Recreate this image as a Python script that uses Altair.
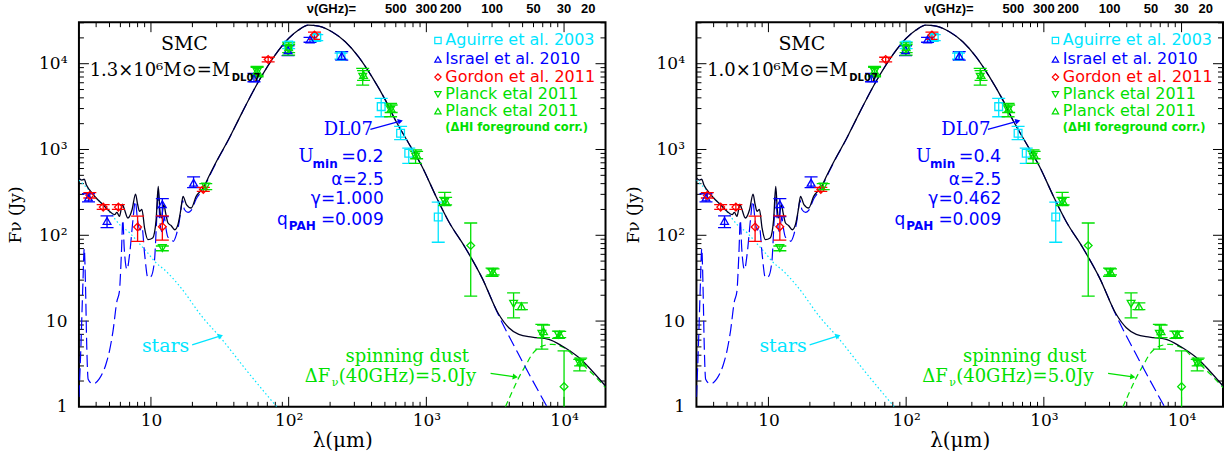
import altair as alt
import pandas as pd

W, H = 527, 385
XDOM = [3, 20000]
YDOM = [1, 30500]

# ---------------- model curves ----------------
tot_lam = [3.0, 3.15, 3.28, 3.4, 3.57, 4.0, 4.48, 5.0, 5.44, 5.66, 5.91, 6.2, 6.37, 6.8, 7.3, 7.73, 8.0,
           8.26, 8.6, 9.0, 9.5, 10.3, 10.9, 11.3, 11.6, 11.9, 12.4, 12.8, 13.3, 14.0, 14.9, 15.7, 16.5,
           17.1, 18.1, 19.6, 21.3, 23.9, 26.7, 29.9, 36.5, 45.6, 60.3, 79.7, 99.8, 118, 139, 165, 206,
           258, 322, 402, 503, 595, 744, 930, 1180, 1452, 1923, 2537, 3355, 3970, 4690, 5860, 7740,
           9680, 12800, 16000, 20000]
tot_F = [464, 440, 450, 385, 340, 272, 228, 190, 174, 185, 166, 230, 208, 159, 200, 302, 230,
         190, 200, 120, 89, 93, 150, 371, 200, 159, 228, 180, 139, 130, 116, 133, 200,
         284, 228, 208, 284, 355, 508, 725, 1297, 2640, 6170, 12600, 19700, 24700, 28200, 27400, 23600,
         18000, 12000, 7060, 3790, 2210, 1184, 634, 280, 145, 71, 31.9, 12.0, 8.36, 7.0, 6.5, 6.13,
         5.12, 3.75, 2.62, 1.75]

dust_lam = [3.0, 3.1, 3.2, 3.28, 3.35, 3.42, 3.5, 3.78, 4.2, 4.7, 5.0, 5.3, 5.66, 5.9, 6.1, 6.25, 6.4,
            6.7, 7.0, 7.4, 7.7, 8.0, 8.3, 8.6, 9.0, 9.5, 10.0, 10.6, 11.0, 11.3, 11.6, 12.0, 12.5,
            12.8, 13.3, 14.0, 14.5, 15.3, 16.0, 17.0, 17.5, 18.6, 19.6, 21.3, 23.9, 26.7, 29.9, 36.5,
            45.6, 60.3, 79.7, 99.8, 118, 139, 165, 206, 258, 322, 402, 503, 595, 744, 930, 1180, 1452,
            1923, 2537, 3355, 4955, 7530]
dust_F = [1.3, 5, 25, 70, 25, 5, 2.1, 1.85, 2.1, 3.1, 4.5, 7.6, 17, 22, 60, 150, 70,
          40, 60, 150, 250, 150, 115, 125, 60, 32, 33, 50, 150, 330, 150, 110, 165,
          125, 95, 92, 85, 102, 140, 255, 200, 185, 195, 265, 344, 495, 715, 1290,
          2635, 6165, 12600, 19700, 24700, 28200, 27400, 23600, 18000, 12000, 7060, 3790, 2210, 1184, 634, 280, 145,
          71, 31.9, 11.6, 3.43, 1.0]

star_lam = [3.0, 3.5, 4.0, 4.5, 5.0, 5.9, 7.0, 8.3, 9.5, 10.6, 12.9, 16.1, 23.9, 31.5, 50, 82]
star_F = [440, 345, 272, 226, 188, 134, 107, 79, 62, 50, 38, 25.7, 10.9, 6.6, 2.6, 1.0]

spin_lam = [3750, 4200, 4690, 5300, 5860, 6920, 8180, 10000, 12800, 16000, 20000]
spin_F = [1.0, 1.5, 2.19, 3.1, 4.1, 5.1, 5.36, 4.9, 3.43, 2.45, 1.68]

# ---------------- observations ----------------
agu_lam = [100, 160, 240, 470, 650, 745, 1220]
agu_F = [16500, 20200, 12300, 3160, 1550, 906, 163]
agu_lo = [15000, 18600, 11300, 2410, 1300, 690, 83]
agu_hi = [18000, 21800, 13300, 3950, 1860, 1040, 243]

isr_lam = [3.52, 4.8, 12.1, 20.4, 56, 99, 143, 243]
isr_F = [275, 147, 230, 410, 6750, 14400, 19200, 12300]
isr_lo = [245, 123, 165, 360, 6160, 12400, 17800, 11000]
isr_hi = [305, 168, 267, 480, 7700, 16200, 20300, 13800]

gor_lam = [3.6, 4.5, 5.8, 8.0, 12.1, 24, 71, 154]
gor_F = [292, 213, 213, 125, 126, 343, 11200, 21600]
gor_lo = [272, 200, 200, 85, 88, 325, 10500, 19200]
gor_hi = [314, 228, 228, 167, 168, 362, 11900, 23400]

pdn_lam = [12.1, 25, 59, 100, 345, 550, 835, 1360, 3000, 4300, 6900, 9100, 13000]
pdn_F = [71, 370, 8070, 14900, 7060, 2900, 830, 246, 37.1, 15.9, 7.1, 6.9, 3.19]
pdn_lo = [66, 340, 7050, 12600, 5640, 2410, 690, 222, 33.3, 10.9, 4.7, 6.3, 2.62]
pdn_hi = [75, 400, 9100, 16700, 8830, 3450, 990, 316, 41.5, 21.3, 9.15, 7.65, 3.58]

pup_lam = [59, 100, 350, 555, 850, 1380, 3050, 4900, 7100, 9300, 13200]
pup_F = [8300, 15600, 7400, 3000, 870, 250, 37.5, 14.9, 7.6, 7.0, 3.35]
pup_lo = [7300, 13500, 6400, 2700, 780, 226, 34.5, 13.6, 6.4, 6.4, 3.0]
pup_hi = [9300, 17500, 8300, 3300, 950, 276, 40.5, 16.3, 9.0, 7.6, 3.7]

dia_lam = [2100, 10000]
dia_F = [75.9, 1.72]
dia_lo = [19.5, 0.5]
dia_hi = [139, 4.5]

set_names = ["agu", "isr", "gor", "pdn", "pup", "dia"]
set_colors = ["#00e5ff", "#0000ff", "#ff0000", "#00e000", "#00e000", "#00e000"]
set_shapes = ["square", "triangle-up", "diamond", "triangle-down", "triangle-up", "diamond"]

legend_labels = ["Aguirre et al. 2003", "Israel et al. 2010", "Gordon et al. 2011",
                 "Planck etal 2011", "Planck etal 2011"]
legend_colors = ["#00e5ff", "#0000ff", "#ff0000", "#00e000", "#00e000"]
legend_shapes = ["square", "triangle-up", "diamond", "triangle-down", "triangle-up"]

nu_labels = [500, 300, 200, 100, 50, 30, 20]

x_major = [10, 100, 1000, 10000]
x_minor = [4, 5, 6, 7, 8, 9, 20, 30, 40, 50, 60, 70, 80, 90, 200, 300, 400, 500, 600, 700, 800, 900,
           2000, 3000, 4000, 5000, 6000, 7000, 8000, 9000]
y_major = [10, 100, 1000, 10000]
y_minor = [2, 3, 4, 5, 6, 7, 8, 9, 20, 30, 40, 50, 60, 70, 80, 90, 200, 300, 400, 500, 600, 700, 800, 900,
           2000, 3000, 4000, 5000, 6000, 7000, 8000, 9000, 20000, 30000]

# ---------------- tables ----------------
def curve(l, f):
    return pd.DataFrame({"lam": l, "F": f})

obs = []
for name, l, f, lo, hi in [("agu", agu_lam, agu_F, agu_lo, agu_hi),
                           ("isr", isr_lam, isr_F, isr_lo, isr_hi),
                           ("gor", gor_lam, gor_F, gor_lo, gor_hi),
                           ("pdn", pdn_lam, pdn_F, pdn_lo, pdn_hi),
                           ("pup", pup_lam, pup_F, pup_lo, pup_hi),
                           ("dia", dia_lam, dia_F, dia_lo, dia_hi)]:
    for a, b, c, d in zip(l, f, lo, hi):
        obs.append({"set": name, "lam": a, "F": b, "lo": c, "hi": d})
obs = pd.DataFrame(obs)

nu_df = pd.DataFrame({"lab": [str(v) for v in nu_labels], "lam": [3.0e5 / v for v in nu_labels]})
leg_df = pd.DataFrame({"lab": legend_labels, "col": legend_colors, "shp": legend_shapes,
                       "yy": [18.3, 37.3, 55.0, 72.3, 89.0]})
one = pd.DataFrame({"a": [0]})

xs = alt.Scale(type="log", domain=XDOM, nice=False)
ys = alt.Scale(type="log", domain=YDOM, nice=False)
xax = alt.Axis(title="λ(μm)", values=x_major, grid=False, ticks=False, tickSize=0, domain=False,
               labelExpr="datum.value==10?'10':datum.value==100?'10²':datum.value==1000?'10³':'10⁴'",
               labelFont="DejaVu Serif", labelFontSize=17, labelPadding=6, labelColor="black",
               titleFont="DejaVu Serif", titleFontSize=20, titleFontWeight="normal", titleColor="black",
               titlePadding=2, labelFlush=False)
yax = alt.Axis(title="Fν (Jy)", values=[1, 10, 100, 1000, 10000], grid=False, ticks=False, tickSize=0,
               domain=False,
               labelExpr="datum.value==1?'1':datum.value==10?'10':datum.value==100?'10²':datum.value==1000?'10³':'10⁴'",
               labelFont="DejaVu Serif", labelFontSize=17, labelPadding=12, labelColor="black",
               titleFont="DejaVu Serif", titleFontSize=17, titleFontWeight="normal", titleColor="black",
               titlePadding=14, labelFlush=False)

cscale = alt.Scale(domain=set_names, range=set_colors)
sscale = alt.Scale(domain=set_names, range=set_shapes)


def X(f):
    return alt.X(f, type="quantitative", scale=xs, axis=xax)


def Y(f):
    return alt.Y(f, type="quantitative", scale=ys, axis=yax)


def txt(s, x, y, size, color="black", font="DejaVu Serif", align="left", weight="normal", style="normal"):
    return alt.Chart(one).mark_text(text=s, align=align, baseline="middle", font=font, fontSize=size,
                                    color=color, fontWeight=weight, fontStyle=style).encode(
        x=alt.value(x), y=alt.value(y))


def arrow(x1, y1, x2, y2, color, ang):
    r = alt.Chart(one).mark_rule(color=color, strokeWidth=1.2).encode(
        x=alt.value(x1), x2=alt.value(x2), y=alt.value(y1), y2=alt.value(y2))
    p = alt.Chart(one).mark_point(shape="triangle-right", filled=True, color=color, size=35,
                                  angle=ang, opacity=1).encode(x=alt.value(x2), y=alt.value(y2))
    return [r, p]


def panel(mass, umin, gamma):
    L = []
    # ticks (inward)
    xmaj = pd.DataFrame({"v": x_major})
    xmin = pd.DataFrame({"v": x_minor})
    ymaj = pd.DataFrame({"v": y_major})
    ymin = pd.DataFrame({"v": y_minor})
    for df, ln in [(xmaj, 10), (xmin, 5)]:
        L.append(alt.Chart(df).mark_rule(color="black", strokeWidth=1).encode(
            x=X("v"), y=alt.value(H), y2=alt.value(H - ln)))
        L.append(alt.Chart(df).mark_rule(color="black", strokeWidth=1).encode(
            x=X("v"), y=alt.value(0), y2=alt.value(ln)))
    for df, ln in [(ymaj, 10), (ymin, 5)]:
        L.append(alt.Chart(df).mark_rule(color="black", strokeWidth=1).encode(
            y=Y("v"), x=alt.value(0), x2=alt.value(ln)))
        L.append(alt.Chart(df).mark_rule(color="black", strokeWidth=1).encode(
            y=Y("v"), x=alt.value(W), x2=alt.value(W - ln)))
    # model curves
    L.append(alt.Chart(curve(star_lam, star_F)).mark_line(color="#00e5ff", strokeWidth=1.2,
                                                         strokeDash=[1.5, 2.5], clip=True,
                                                         interpolate="monotone").encode(
        x=X("lam"), y=Y("F"), order="lam:Q"))
    L.append(alt.Chart(curve(spin_lam, spin_F)).mark_line(color="#00e000", strokeWidth=1.2,
                                                         strokeDash=[6, 4], clip=True,
                                                         interpolate="monotone").encode(
        x=X("lam"), y=Y("F"), order="lam:Q"))
    L.append(alt.Chart(curve(dust_lam, dust_F)).mark_line(color="#0000ff", strokeWidth=1.2,
                                                         strokeDash=[12, 5], clip=True,
                                                         interpolate="monotone").encode(
        x=X("lam"), y=Y("F"), order="lam:Q"))
    L.append(alt.Chart(curve(tot_lam, tot_F)).mark_line(color="#000022", strokeWidth=1.3, clip=True,
                                                       interpolate="monotone").encode(
        x=X("lam"), y=Y("F"), order="lam:Q"))
    # observations
    col = alt.Color("set:N", scale=cscale, legend=None)
    L.append(alt.Chart(obs).mark_rule(strokeWidth=1.3, clip=True).encode(
        x=X("lam"), y=Y("lo"), y2="hi", color=col))
    for f in ["lo", "hi"]:
        L.append(alt.Chart(obs).mark_tick(orient="horizontal", size=13, thickness=1.3, clip=True,
                                          opacity=1).encode(x=X("lam"), y=Y(f), color=col))
    L.append(alt.Chart(obs).mark_point(filled=False, strokeWidth=1.3, size=60, opacity=1).encode(
        x=X("lam"), y=Y("F"), color=col,
        shape=alt.Shape("set:N", scale=sscale, legend=None)))
    # top frequency labels
    L.append(alt.Chart(nu_df).mark_text(font="Liberation Sans", fontSize=13, fontWeight="bold",
                                        baseline="middle", color="black").encode(
        x=X("lam"), y=alt.value(-12.7), text="lab:N"))
    L.append(txt("ν(GHz)=", 228, -12.7, 13, font="Liberation Sans", weight="bold"))
    # legend
    L.append(alt.Chart(leg_df).mark_point(filled=False, strokeWidth=1.2, size=40, opacity=1).encode(
        x=alt.value(359.3), y=alt.Y("yy:Q", scale=None),
        color=alt.Color("col:N", scale=None), shape=alt.Shape("shp:N", scale=None)))
    L.append(alt.Chart(leg_df).mark_text(font="DejaVu Sans", fontSize=16, align="left",
                                         baseline="middle").encode(
        x=alt.value(366.7), y=alt.Y("yy:Q", scale=None), text="lab:N",
        color=alt.Color("col:N", scale=None)))
    L.append(txt("(ΔHI foreground corr.)", 366.7, 105.7, 11.5, color="#00e000", font="DejaVu Sans",
                 weight="bold"))
    # titles
    L.append(txt("SMC", 105.5, 21.7, 19, align="center"))
    L.append(txt(mass + "M⊙=M", 10.7, 49, 18))
    L.append(txt("DL07", 153, 55.5, 10, font="DejaVu Sans", weight="bold"))
    # DL07 label and params
    blue = "#0000ff"
    L.append(txt("DL07", 245, 108.3, 18, color=blue))
    L += arrow(291.7, 107.3, 321.7, 99, blue, 344.5)
    L.append(txt("=" + umin, 305, 135, 17.5, color=blue, font="DejaVu Sans", align="right"))
    L.append(txt("min", 259, 142, 12, color=blue, font="DejaVu Sans", align="right", weight="bold"))
    L.append(txt("U", 235, 135, 18, color=blue, align="right"))
    L.append(txt("α=2.5", 305, 157.5, 17, color=blue, font="DejaVu Sans", align="right"))
    L.append(txt("γ=" + gamma, 305, 177, 17, color=blue, font="DejaVu Sans", align="right"))
    L.append(txt("=0.009", 305, 197.5, 17, color=blue, font="DejaVu Sans", align="right"))
    L.append(txt("PAH", 237, 204, 12, color=blue, font="DejaVu Sans", align="right", weight="bold"))
    L.append(txt("q", 209, 197.5, 17, color=blue, font="DejaVu Sans", align="right"))
    # stars
    cy = "#00e5ff"
    L.append(txt("stars", 63, 324, 19, color=cy))
    L += arrow(113.3, 323, 141.7, 314, cy, 342.4)
    # spinning dust
    gr = "#00e000"
    L.append(txt("spinning dust", 266.7, 335.5, 18, color=gr))
    L.append(txt("ΔF", 226, 355, 18, color=gr))
    L.append(txt("ν", 253, 361, 11, color=gr))
    L.append(txt("(40GHz)=5.0Jy", 260, 355, 18, color=gr))
    L += arrow(412, 351.5, 436.7, 355, gr, 8.1)
    return alt.layer(*L).properties(width=W, height=H)


left = panel("1.3×10⁶", "0.2", "1.000")
right = panel("1.0×10⁶", "0.4", "0.462")

chart = alt.hconcat(left, right, spacing=15).properties(
    padding={"left": 5, "top": 2, "right": 5, "bottom": 5},
    background="white",
).configure_view(stroke="black", strokeWidth=2)

chart.save("out.html", embed_options={"renderer": "svg", "actions": False})
